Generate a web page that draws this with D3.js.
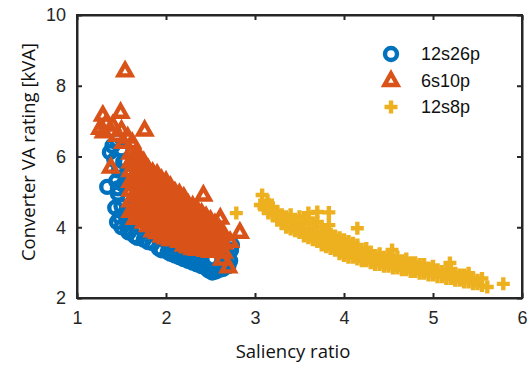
<!DOCTYPE html>
<html>
<head>
<meta charset="utf-8">
<script src="https://cdn.jsdelivr.net/npm/d3@7"></script>
<style>
  body { margin: 0; background: #fff; }
  svg { display: block; }
</style>
</head>
<body>
<div id="chart"></div>
<script>
// data: [saliency ratio, VA rating kVA]
const s12s26p = [
  [1.34,5.14],[1.37,6.12],[1.45,6.46],[1.40,6.30],[1.42,5.90],[1.47,5.60],[1.44,5.30],
  [1.46,4.95],[1.43,4.55],[1.45,4.15],[1.50,4.00],[1.55,4.30],[1.58,3.85],[1.65,3.75],
  [1.70,4.00],[1.75,3.65],[1.85,3.55],[1.90,3.75],[1.95,3.35],[2.00,3.60],[2.05,3.25],
  [2.12,3.45],[2.15,3.15],[2.25,3.05],[2.30,3.30],[2.35,2.95],[2.45,2.85],[2.50,3.10],
  [2.52,2.72],[2.60,2.80],[2.65,3.00],[2.72,3.05],[2.73,3.35],[2.74,3.50],[2.68,3.20],
  [1.52,5.20],[1.50,4.60],[1.60,4.60],[1.55,5.50],[1.50,6.20],[1.52,5.85],[1.62,4.10],
  [1.80,3.90],[2.40,3.05],[2.20,3.30],[1.57,3.95],[1.68,3.70],[1.80,3.58],[1.92,3.40],
  [2.02,3.30],[2.10,3.20],[2.20,3.10],[2.30,3.00],[2.40,2.90],[2.48,2.78],[2.56,2.75],
  [2.64,2.82],[2.70,2.90],[1.48,4.30],[1.46,5.10]
];
const s6s10p = [
  [1.54,8.42],[1.29,7.17],[1.49,7.25],[1.26,6.80],[1.40,6.89],[1.33,6.95],[1.50,6.75],
  [1.57,6.55],[1.76,6.75],[1.38,5.70],[2.42,4.91],[2.83,3.86],[2.70,2.88],[2.63,3.10],
  [2.72,3.60],[2.61,4.26],[1.45,6.60],[1.62,6.40],[1.30,6.70],[1.52,6.40],
  [1.60,6.10],[1.60,5.85],[1.60,5.60],[1.60,5.30],[1.60,5.05],[1.60,4.75],[1.60,4.45],
  [1.65,6.05],[1.65,5.75],[1.65,5.45],[1.65,5.20],[1.65,4.90],[1.65,4.55],[1.65,4.25],
  [1.70,6.00],[1.70,5.70],[1.70,5.45],[1.70,5.15],[1.70,4.85],[1.70,4.55],[1.70,4.30],
  [1.75,5.85],[1.75,5.55],[1.75,5.25],[1.75,4.95],[1.75,4.70],[1.75,4.40],[1.75,4.15],
  [1.80,5.65],[1.80,5.40],[1.80,5.10],[1.80,4.85],[1.80,4.55],[1.80,4.30],[1.80,4.05],
  [1.85,5.55],[1.85,5.25],[1.85,5.00],[1.85,4.70],[1.85,4.45],[1.85,4.15],[1.85,3.90],
  [1.90,5.50],[1.90,5.20],[1.90,4.95],[1.90,4.65],[1.90,4.40],[1.90,4.10],[1.90,3.85],
  [1.95,5.35],[1.95,5.05],[1.95,4.80],[1.95,4.50],[1.95,4.25],[1.95,3.95],[1.95,3.75],
  [2.00,5.30],[2.00,5.00],[2.00,4.70],[2.00,4.45],[2.00,4.15],[2.00,3.90],[2.00,3.70],
  [2.05,5.15],[2.05,4.85],[2.05,4.60],[2.05,4.30],[2.05,4.05],[2.05,3.80],[2.05,3.65],
  [2.10,5.00],[2.10,4.75],[2.10,4.45],[2.10,4.20],[2.10,3.90],[2.10,3.65],
  [2.15,4.95],[2.15,4.65],[2.15,4.40],[2.15,4.10],[2.15,3.85],[2.15,3.60],
  [2.20,4.85],[2.20,4.55],[2.20,4.30],[2.20,4.00],[2.20,3.75],[2.20,3.50],
  [2.25,4.65],[2.25,4.40],[2.25,4.15],[2.25,3.90],[2.25,3.65],[2.25,3.45],
  [2.30,4.60],[2.30,4.35],[2.30,4.05],[2.30,3.80],[2.30,3.55],[2.30,3.40],
  [2.35,4.50],[2.35,4.25],[2.35,4.00],[2.35,3.75],[2.35,3.50],[2.35,3.38],
  [2.40,4.40],[2.40,4.15],[2.40,3.90],[2.40,3.65],[2.40,3.40],
  [2.45,4.30],[2.45,4.05],[2.45,3.80],[2.45,3.55],[2.45,3.35],
  [2.50,4.20],[2.50,3.95],[2.50,3.70],[2.50,3.45],[2.50,3.32],
  [2.55,4.10],[2.55,3.85],[2.55,3.60],[2.55,3.35],
  [2.60,3.95],[2.60,3.70],[2.60,3.45],
  [2.65,3.80],[2.65,3.55],[2.65,3.30]
];
const s12s8p = [
  [2.79,4.40],[3.08,4.91],[3.06,4.63],[3.14,4.75],[3.83,4.42],[3.83,4.06],[4.15,3.97],
  [4.54,3.36],[5.19,2.99],[5.79,2.40],[5.61,2.31],[3.70,4.43],[3.60,4.40],
  [3.10,4.55],[3.15,4.40],[3.15,4.65],[3.20,4.35],[3.20,4.55],[3.25,4.20],[3.25,4.45],
  [3.30,4.10],[3.30,4.35],[3.35,4.00],[3.35,4.30],[3.40,3.95],[3.40,4.20],[3.40,4.35],
  [3.45,3.90],[3.45,4.10],[3.50,3.85],[3.50,4.05],[3.50,4.30],[3.55,3.75],[3.55,4.15],
  [3.60,3.70],[3.60,3.95],[3.60,4.25],[3.65,3.65],[3.65,3.85],[3.65,4.10],
  [3.70,3.60],[3.70,3.85],[3.70,4.15],[3.75,3.50],[3.75,3.75],[3.75,4.00],
  [3.80,3.45],[3.80,3.65],[3.80,3.90],[3.85,3.40],[3.85,3.60],[3.85,3.80],
  [3.90,3.35],[3.90,3.55],[3.90,3.75],[3.95,3.25],[3.95,3.50],[3.95,3.70],
  [4.00,3.20],[4.00,3.45],[4.00,3.65],[4.05,3.15],[4.05,3.40],[4.05,3.60],
  [4.10,3.15],[4.10,3.35],[4.10,3.55],[4.15,3.10],[4.15,3.30],[4.15,3.50],[4.20,3.05],[4.20,3.25],
  [4.25,3.05],[4.25,3.40],[4.30,3.00],[4.30,3.15],[4.30,3.30],[4.35,2.95],[4.35,3.20],
  [4.40,2.95],[4.40,3.10],[4.40,3.25],[4.45,2.90],[4.45,3.15],
  [4.50,2.90],[4.50,3.05],[4.50,3.20],[4.55,2.85],[4.55,3.10],[4.60,2.85],[4.60,3.00],[4.60,3.15],
  [4.65,2.80],[4.65,3.05],[4.70,2.80],[4.70,2.95],[4.70,3.10],[4.75,2.75],[4.75,3.00],
  [4.80,2.75],[4.80,2.90],[4.80,3.00],[4.85,2.70],[4.85,2.95],
  [4.90,2.70],[4.90,2.85],[4.90,2.95],[4.95,2.65],[4.95,2.85],[5.00,2.65],[5.00,2.80],[5.00,2.90],
  [5.05,2.60],[5.05,2.80],[5.10,2.60],[5.10,2.75],[5.15,2.55],[5.15,2.75],
  [5.20,2.55],[5.20,2.70],[5.20,2.80],[5.25,2.50],[5.25,2.70],[5.30,2.50],[5.30,2.65],
  [5.35,2.45],[5.35,2.65],[5.40,2.45],[5.40,2.60],[5.40,2.70],[5.45,2.40],[5.45,2.55],
  [5.50,2.40],[5.50,2.50],[5.55,2.35],[5.55,2.55]
];
const seriesNames = ["12s26p", "6s10p", "12s8p"];
const seriesColors = ["#0072BD", "#D95319", "#EDB120"];
const xTicks = [1, 2, 3, 4, 5, 6];
const yTicks = [2, 4, 6, 8, 10];

(function() {
  const W = 531, H = 365;
  const m = { left: 77, right: 9, top: 15, bottom: 67 };
  const ink = "#262626";

  const svg = d3.select("#chart").append("svg")
    .attr("width", W).attr("height", H);

  const x = d3.scaleLinear().domain([1, 6]).range([m.left, W - m.right]);
  const y = d3.scaleLinear().domain([2, 10]).range([H - m.bottom, m.top]);

  // marker shapes
  const tri = "M0,-7L6.5,4.5L-6.5,4.5Z";
  const plus = "M-6.5,0H6.5M0,-6.5V6.5";
  const sw = 4.4;

  const g = svg.append("g");

  function drawSeries(data, kind, color) {
    const sel = g.append("g").selectAll("path").data(data).enter();
    if (kind === "circle") {
      sel.append("circle")
        .attr("cx", d => x(d[0])).attr("cy", d => y(d[1])).attr("r", 6)
        .attr("fill", "none").attr("stroke", color).attr("stroke-width", sw);
    } else {
      sel.append("path")
        .attr("transform", d => "translate(" + x(d[0]) + "," + y(d[1]) + ")")
        .attr("d", kind === "tri" ? tri : plus)
        .attr("fill", "none").attr("stroke", color).attr("stroke-width", sw)
        .attr("stroke-linejoin", "miter");
    }
  }

  drawSeries(s12s26p, "circle", seriesColors[0]);
  drawSeries(s6s10p, "tri", seriesColors[1]);
  drawSeries(s12s8p, "plus", seriesColors[2]);

  // axes (MATLAB box, ticks inside on all sides)
  const fmt = d3.format("d");
  const bottom = d3.axisBottom(x).tickValues(xTicks).tickFormat(fmt).tickSizeInner(-5).tickSizeOuter(0).tickPadding(13);
  const left = d3.axisLeft(y).tickValues(yTicks).tickFormat(fmt).tickSizeInner(-5).tickSizeOuter(0).tickPadding(11);
  const top = d3.axisTop(x).tickValues(xTicks).tickSizeInner(-5).tickSizeOuter(0).tickFormat("");
  const right = d3.axisRight(y).tickValues(yTicks).tickSizeInner(-5).tickSizeOuter(0).tickFormat("");

  const axes = [
    [bottom, "translate(0," + (H - m.bottom) + ")"],
    [left, "translate(" + m.left + ",0)"],
    [top, "translate(0," + m.top + ")"],
    [right, "translate(" + (W - m.right) + ",0)"]
  ];
  axes.forEach(function(a) {
    const ag = svg.append("g").attr("transform", a[1]).call(a[0]);
    ag.select(".domain").attr("stroke", ink).attr("stroke-width", 2);
    ag.selectAll(".tick line").attr("stroke", ink).attr("stroke-width", 2);
    ag.selectAll("text").attr("fill", ink)
      .style("font-family", "'Liberation Sans', Arial, sans-serif").style("font-size", "18px");
  });

  svg.append("rect")
    .attr("x", m.left).attr("y", m.top)
    .attr("width", W - m.right - m.left).attr("height", H - m.bottom - m.top)
    .attr("fill", "none").attr("stroke", ink).attr("stroke-width", 2);

  // axis labels
  svg.append("text")
    .attr("x", 293).attr("y", 358)
    .attr("text-anchor", "middle")
    .style("font-family", "'Open Sans', sans-serif").style("font-size", "18.5px")
    .attr("fill", "#111")
    .text("Saliency ratio");

  svg.append("text")
    .attr("transform", "translate(35," + 152 + ") rotate(-90)")
    .attr("text-anchor", "middle")
    .style("font-family", "'Open Sans', sans-serif").style("font-size", "18.5px")
    .attr("fill", "#111")
    .text("Converter VA rating [kVA]");

  // legend
  const leg = svg.append("g");
  const kinds = ["circle", "tri", "plus"];
  seriesNames.forEach(function(name, i) {
    const ly = 54 + i * 26.5;
    if (kinds[i] === "circle") {
      leg.append("circle").attr("cx", 391).attr("cy", ly).attr("r", 6)
        .attr("fill", "none").attr("stroke", seriesColors[i]).attr("stroke-width", sw);
    } else {
      leg.append("path").attr("transform", "translate(391," + ly + ")")
        .attr("d", kinds[i] === "tri" ? tri : plus)
        .attr("fill", "none").attr("stroke", seriesColors[i]).attr("stroke-width", sw);
    }
    leg.append("text").attr("x", 421).attr("y", ly).attr("dy", "0.36em")
      .style("font-family", "'Liberation Sans', Arial, sans-serif").style("font-size", "18px")
      .attr("fill", "#111")
      .text(name);
  });
})();
</script>
</body>
</html>
